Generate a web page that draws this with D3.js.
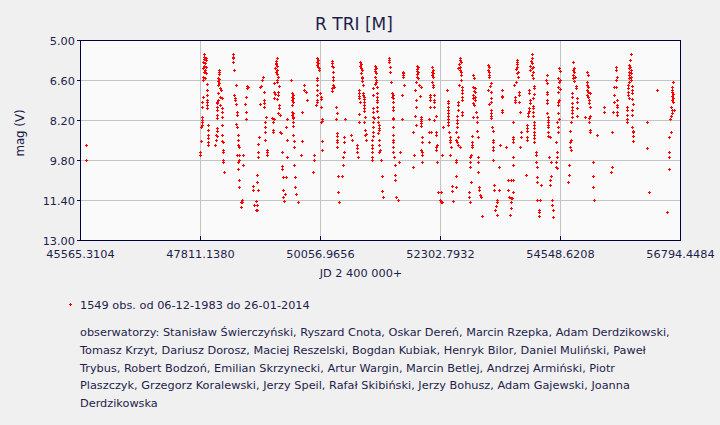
<!DOCTYPE html>
<html>
<head>
<meta charset="utf-8">
<script src="https://cdnjs.cloudflare.com/ajax/libs/d3/7.8.5/d3.min.js"></script>
<style>
  html, body { margin: 0; padding: 0; background: #f0f0f0; }
  svg { display: block; }
  text { font-family: "DejaVu Sans", Verdana, sans-serif; fill: #1e1e4b; }
</style>
</head>
<body>
<div id="chart"></div>
<script>
// tick values of both axes
var xTicks = [45565.3104, 47811.1380, 50056.9656, 52302.7932, 54548.6208, 56794.4484];
var yTicks = [5.00, 6.60, 8.20, 9.80, 11.40, 13.00];

var obsEarly = [[45672, 9.81], [45683, 9.21]];

var obsBlock1 = [
  [47892, 5.57], [47892, 5.67], [47917, 5.71], [47892, 5.76], [47917, 5.80], [47874, 5.87], [47905, 5.93],
  [47886, 6.03], [47917, 6.07], [47874, 6.13], [47905, 6.20], [47886, 6.27], [47917, 6.33], [47874, 6.47],
  [47905, 6.53], [47874, 6.60], [47936, 6.77], [47936, 7.00], [47936, 7.20], [47874, 7.29], [47855, 7.47],
  [47855, 7.69], [47948, 7.40], [47948, 7.49], [47948, 7.60], [47948, 7.73], [47855, 8.09], [47855, 8.20],
  [47842, 8.29], [47842, 8.40], [47830, 8.47], [47824, 9.03], [47811, 9.49], [47811, 9.60], [47967, 8.40],
  [47967, 8.60], [47967, 8.80], [47967, 8.93], [47967, 9.07], [47967, 9.20],
  [48167, 6.20], [48167, 6.27], [48167, 6.37], [48154, 6.51], [48173, 6.57], [48142, 6.64], [48173, 6.71],
  [48154, 6.80], [48185, 6.91], [48204, 7.00], [48154, 7.13], [48185, 7.27], [48217, 7.33], [48154, 7.40],
  [48123, 7.47], [48123, 7.53], [48185, 7.60], [48123, 7.67], [48217, 7.73], [48123, 7.80], [48217, 7.87],
  [48123, 8.00], [48217, 8.07], [48123, 8.13], [48217, 8.40], [48123, 8.53], [48123, 8.64], [48104, 8.80],
  [48123, 8.83], [48104, 9.00], [48229, 8.80], [48229, 9.04], [48248, 9.09], [48092, 9.20], [48248, 9.40],
  [48248, 9.49], [48248, 9.80], [48248, 9.89], [48267, 10.29],
  [48422, 5.57], [48435, 5.67], [48422, 5.73], [48435, 5.87], [48454, 6.20], [48479, 6.80], [48454, 7.20],
  [48466, 7.31], [48466, 7.40], [48479, 7.56], [48497, 7.87], [48497, 8.00], [48479, 8.37], [48497, 8.47],
  [48516, 8.80], [48516, 9.00], [48529, 9.20], [48541, 9.27], [48497, 9.60], [48541, 9.60], [48541, 9.80],
  [48529, 9.89], [48529, 10.17], [48547, 10.60], [48547, 10.89], [48591, 11.40], [48578, 11.47],
  [48603, 11.47], [48572, 11.69], [48622, 9.60], [48622, 10.00],
  [48697, 6.83], [48716, 6.87], [48684, 6.93], [48672, 7.29], [48653, 7.57], [48666, 7.87], [48666, 8.16],
  [48984, 6.49], [48965, 6.60], [48946, 6.83], [48934, 6.89], [49009, 7.07], [49009, 7.40], [49009, 7.53],
  [48934, 7.57], [49009, 7.67], [49040, 8.07], [49028, 8.29], [49028, 8.49], [49028, 8.69], [49028, 9.01],
  [48921, 8.89], [48903, 9.17], [48903, 9.49], [48903, 9.69], [49059, 9.40], [49059, 9.49], [49071, 9.60],
  [48884, 10.40], [48884, 10.69], [48809, 10.83], [48809, 11.01], [48890, 11.01], [48859, 11.43],
  [48822, 11.61], [48872, 11.61], [48853, 11.80], [48872, 11.81],
  [49246, 5.73], [49233, 5.83], [49227, 5.91], [49227, 5.97], [49246, 6.03], [49215, 6.11], [49258, 6.20],
  [49227, 6.27], [49246, 6.36], [49265, 6.47], [49258, 6.60], [49258, 6.67], [49196, 6.73], [49296, 6.83],
  [49196, 7.07], [49277, 7.07], [49215, 7.17], [49277, 7.20], [49196, 7.31], [49258, 7.37], [49296, 7.60],
  [49296, 7.73], [49277, 7.91], [49308, 8.00], [49196, 8.17], [49152, 8.11], [49171, 8.29], [49171, 8.60],
  [49184, 8.69], [49308, 8.69], [49321, 8.73], [49433, 8.16], [49420, 8.47], [49433, 9.00], [49339, 9.49],
  [49433, 9.69], [49339, 10.03], [49339, 10.17], [49371, 10.49], [49414, 10.49], [49358, 11.01],
  [49402, 11.16], [49358, 11.29], [49389, 11.43]
];

var obsBlock2 = [
  [49514, 6.60], [49527, 7.13], [49545, 7.20], [49527, 7.27], [49545, 7.33], [49527, 7.40], [49545, 7.47],
  [49527, 7.60], [49527, 7.87], [49545, 7.93], [49527, 8.00], [49545, 8.07], [49558, 8.13], [49545, 8.27],
  [49558, 8.44], [49558, 8.80], [49577, 9.03], [49570, 9.29], [49570, 10.00], [49589, 10.49], [49589, 10.89],
  [49608, 11.16], [49651, 11.49], [49714, 9.03], [49726, 7.89], [49695, 9.60], [49764, 6.80], [49758, 7.00],
  [49789, 7.07], [49807, 7.40],
  [50007, 5.73], [50026, 5.80], [50007, 5.87], [50026, 5.93], [50007, 6.00], [50026, 6.07], [50044, 6.13],
  [50038, 6.20], [50007, 6.51], [50007, 6.60], [49995, 6.80], [49995, 7.00], [49995, 7.20], [49995, 7.40],
  [49995, 7.47], [49976, 7.60], [50057, 7.11], [50069, 7.27], [50069, 7.36], [50069, 7.67], [50088, 8.16],
  [50088, 8.24], [50075, 8.29], [50101, 9.03], [50101, 9.40], [49951, 9.60], [49951, 9.80], [49932, 10.29],
  [50288, 5.84], [50275, 5.93], [50288, 6.03], [50306, 6.07], [50306, 6.27], [50306, 6.49], [50306, 6.60],
  [50306, 6.80], [50275, 6.93], [50275, 7.03], [50325, 6.87], [50350, 7.67], [50369, 7.91], [50350, 8.16],
  [50369, 8.73], [50369, 8.83], [50369, 9.00], [50369, 9.09], [50369, 9.29], [50400, 10.43], [50400, 11.09],
  [50418, 11.49],
  [50525, 8.16], [50512, 8.89], [50512, 9.09], [50631, 8.80], [50649, 9.00], [50512, 9.49], [50494, 9.69],
  [50494, 10.00], [50475, 10.43],
  [50805, 5.89], [50818, 5.97], [50805, 6.04], [50818, 6.11], [50837, 6.20], [50818, 6.33], [50837, 6.47],
  [50837, 6.53], [50849, 6.64], [50868, 6.80], [50787, 7.00], [50787, 7.11], [50787, 7.23], [50787, 7.33],
  [50805, 7.49], [50868, 7.13], [50868, 7.20], [50880, 7.27], [50880, 7.36], [50880, 7.47], [50880, 7.60],
  [50880, 7.71], [50880, 7.84], [50899, 8.07], [50880, 8.29], [50899, 8.60], [50899, 8.80], [50912, 9.00],
  [50793, 7.97], [50793, 8.29], [50743, 9.20], [50743, 9.33], [50756, 9.49], [50762, 9.69], [50918, 8.76],
  [51086, 6.03], [51105, 6.11], [51086, 6.16], [51086, 6.24], [51105, 6.33], [51086, 6.47], [51105, 6.60],
  [51105, 6.69], [51086, 6.77], [51117, 6.87], [51055, 6.93], [51055, 7.20], [51130, 7.13], [51130, 7.27],
  [51130, 7.40], [51130, 7.49], [51130, 7.67], [51130, 7.84], [51149, 8.07], [51149, 8.29], [51167, 8.40],
  [51167, 8.51], [51167, 8.60], [51149, 8.73], [51167, 9.00], [51167, 9.20], [51180, 9.40], [51167, 9.49],
  [51192, 9.80], [51043, 7.73], [51043, 7.87], [51043, 8.07], [51043, 8.27], [51043, 8.47], [51043, 8.69],
  [51043, 8.83], [51024, 9.00], [51024, 9.20], [51024, 9.33], [51024, 9.49], [51024, 9.67], [51024, 9.80],
  [51068, 8.13], [51211, 10.43], [51223, 11.03], [51242, 11.29], [51354, 5.71], [51354, 5.80], [51354, 5.89]
];

var obsBlock3 = [
  [51367, 6.07], [51367, 6.27], [51386, 6.69], [51398, 7.13], [51417, 7.20], [51398, 7.27], [51417, 7.33],
  [51417, 7.49], [51417, 7.67], [51417, 7.80], [51417, 8.11], [51429, 8.16], [51429, 8.49], [51429, 8.80],
  [51429, 9.00], [51429, 9.09], [51429, 9.27], [51429, 9.49], [51448, 9.69], [51461, 10.00], [51461, 10.40],
  [51461, 10.60], [51479, 11.29], [51523, 11.40], [51554, 9.49], [51542, 9.89], [51585, 7.20], [51585, 8.16],
  [51635, 6.80], [51604, 6.27], [51604, 6.33], [51604, 6.40], [51604, 6.47], [51617, 6.33],
  [51866, 6.03], [51897, 6.09], [51879, 6.16], [51866, 6.24], [51897, 6.29], [51879, 6.37], [51866, 6.47],
  [51897, 6.53], [51854, 6.67], [51916, 6.80], [51941, 6.89], [51835, 7.00], [51928, 7.23], [51847, 7.40],
  [51847, 7.69], [51835, 8.03], [51941, 8.07], [51941, 8.16], [51941, 8.24], [51941, 8.33], [51941, 8.43],
  [51847, 8.40], [51804, 8.69], [51960, 8.89], [51960, 9.09], [51941, 9.40], [51960, 9.49], [51972, 9.60],
  [51972, 9.89], [51822, 9.60], [51804, 10.09],
  [52147, 6.09], [52165, 6.20], [52147, 6.27], [52178, 6.33], [52147, 6.40], [52178, 6.47], [52147, 6.69],
  [52165, 6.80], [52178, 6.89], [52116, 7.20], [52116, 7.29], [52116, 7.40], [52197, 7.20], [52197, 7.40],
  [52197, 7.49], [52116, 7.69], [52197, 7.69], [52222, 8.03], [52103, 8.16], [52197, 8.20], [52103, 8.67],
  [52128, 8.69], [52222, 8.69], [52222, 8.80], [52097, 9.09], [52240, 9.20], [52228, 9.29], [52222, 9.40],
  [52253, 9.89],
  [52272, 11.07], [52315, 11.07], [52303, 11.40], [52315, 11.47], [52334, 11.49], [52365, 8.49], [52346, 9.60],
  [52677, 5.71], [52677, 5.80], [52689, 5.89], [52664, 5.97], [52677, 6.07], [52646, 6.13], [52677, 6.20],
  [52689, 6.27], [52696, 6.40], [52696, 6.60], [52658, 6.80], [52721, 6.87], [52721, 7.00], [52721, 7.13],
  [52721, 7.27], [52721, 7.40], [52646, 7.49], [52646, 7.60], [52646, 7.80], [52721, 7.87], [52721, 8.00],
  [52627, 8.03], [52627, 8.20], [52627, 8.33], [52615, 8.47], [52602, 8.69], [52633, 8.87], [52602, 9.00],
  [52615, 9.09], [52633, 9.20], [52677, 9.29], [52440, 7.00], [52446, 7.44], [52459, 7.53], [52459, 7.67],
  [52459, 7.80], [52459, 7.93], [52459, 8.03], [52459, 8.16], [52459, 8.27], [52459, 8.40], [52477, 8.69],
  [52490, 8.89], [52490, 9.00], [52490, 9.09], [52502, 9.27], [52490, 9.60], [52596, 9.80], [52596, 9.89],
  [52596, 10.43], [52534, 10.83], [52534, 11.03], [52596, 10.89], [52552, 11.43],
  [52914, 6.40], [52939, 6.53], [52927, 6.87], [52958, 6.93], [52939, 7.03], [52958, 7.09], [52927, 7.20],
  [52958, 7.27], [52927, 7.33], [52958, 7.40], [52927, 7.53], [52939, 7.60], [52976, 7.89], [52914, 8.07],
  [52989, 8.07], [52989, 8.29], [53001, 8.63], [53020, 8.89], [52908, 8.83], [52908, 9.07], [52895, 9.20],
  [52895, 9.29], [52877, 9.60], [52864, 9.69], [53020, 9.69], [53020, 9.89], [52864, 9.89], [52864, 10.09],
  [53020, 10.29], [52877, 10.69], [52852, 11.09], [52852, 11.29], [52864, 11.49], [53039, 10.89],
  [53039, 11.00], [53051, 11.20], [53064, 11.29], [53082, 12.03],
  [53207, 6.00], [53220, 6.09], [53207, 6.20], [53220, 6.29], [53220, 6.40], [53220, 6.49], [53195, 7.00],
  [53238, 6.84], [53226, 7.57]
];

var obsBlock4 = [
  [53257, 6.73], [53257, 7.07], [53257, 7.31], [53257, 7.49], [53257, 7.80], [53257, 7.93], [53257, 8.03],
  [53257, 8.13], [53270, 8.47], [53288, 8.64], [53288, 9.00], [53288, 9.09], [53288, 9.27], [53288, 9.40],
  [53301, 9.80], [53320, 10.80], [53320, 11.00], [53376, 11.40], [53376, 11.49], [53351, 11.63],
  [53332, 11.80], [53363, 12.00], [53413, 10.09], [53413, 11.00], [53426, 9.20], [53457, 7.00], [53457, 7.23],
  [53457, 7.29], [53457, 7.80], [53457, 7.89], [53538, 9.29],
  [53738, 5.80], [53750, 5.89], [53738, 5.97], [53750, 6.07], [53725, 6.16], [53769, 6.27], [53738, 6.33],
  [53769, 6.49], [53719, 6.67], [53694, 6.80], [53787, 7.07], [53787, 7.20], [53706, 7.27], [53706, 7.40],
  [53706, 7.49], [53787, 7.49], [53800, 7.89], [53675, 8.29], [53675, 8.87], [53675, 8.96], [53675, 9.07],
  [53812, 8.69], [53812, 8.89], [53800, 9.29], [53675, 9.69], [53675, 10.00], [53582, 10.60], [53625, 10.60],
  [53663, 10.60], [53582, 11.00], [53663, 11.07], [53600, 11.27], [53625, 11.31], [53644, 11.31],
  [53625, 11.49], [53625, 11.73], [53613, 12.00],
  [54018, 5.57], [54018, 5.73], [54000, 5.84], [54018, 5.93], [53987, 6.03], [54037, 6.07], [54018, 6.13],
  [53987, 6.20], [54037, 6.27], [54018, 6.40], [54049, 6.53], [53974, 7.00], [53974, 7.13], [54062, 6.83],
  [54062, 6.93], [54062, 7.16], [54049, 7.33], [53987, 7.40], [53987, 7.53], [54049, 7.64], [53974, 7.73],
  [53974, 7.84], [53956, 7.93], [53956, 8.03], [54049, 7.73], [54049, 7.87], [54049, 8.03], [54068, 8.27],
  [54068, 8.40], [54068, 8.53], [54068, 8.67], [54068, 8.80], [54068, 8.93], [54068, 9.07], [53937, 8.40],
  [53937, 8.53], [53937, 8.64], [53937, 8.87], [53937, 9.00], [54093, 9.49], [54093, 9.60], [54099, 9.89],
  [54112, 10.09], [53912, 10.40], [54112, 10.49], [54112, 10.69], [54187, 10.80], [54124, 11.40],
  [54174, 11.40], [54156, 11.80], [54156, 11.87], [54162, 12.03],
  [54299, 6.40], [54287, 6.60], [54299, 6.73], [54311, 7.07], [54311, 7.16], [54299, 7.40], [54299, 7.53],
  [54311, 7.93], [54330, 8.07], [54330, 8.20], [54330, 8.29], [54330, 8.40], [54330, 8.49], [54330, 8.69],
  [54330, 8.83], [54361, 8.89], [54474, 9.09], [54349, 9.69], [54374, 9.87], [54486, 9.69], [54486, 9.49],
  [54474, 9.89], [54474, 10.09], [54486, 10.13], [54374, 10.43], [54361, 10.60], [54361, 10.80],
  [54392, 11.40], [54392, 11.60], [54424, 11.80], [54411, 12.09],
  [54536, 6.11], [54548, 6.24], [54517, 6.51], [54548, 6.60], [54536, 6.69], [54517, 6.89], [54548, 6.96],
  [54517, 7.09], [54536, 7.40], [54517, 7.49], [54517, 7.60], [54517, 7.93], [54536, 8.16], [54499, 8.27],
  [54505, 8.69], [54505, 8.47],
  [54798, 5.89], [54811, 6.11], [54785, 6.20], [54811, 6.27], [54798, 6.40], [54829, 6.47], [54798, 6.53],
  [54811, 6.64], [54848, 6.83], [54848, 6.93], [54767, 7.13], [54767, 7.27], [54860, 7.31], [54860, 7.47],
  [54767, 7.53], [54767, 7.67], [54767, 7.80], [54767, 7.93], [54767, 8.07], [54860, 7.71], [54860, 8.03],
  [54748, 8.29], [54736, 8.64], [54748, 9.00], [54736, 9.07], [54736, 9.29], [54748, 9.40], [54723, 10.00],
  [54717, 10.40], [54704, 10.69],
  [55047, 6.29], [55066, 6.40], [55060, 6.67], [55047, 6.80], [55079, 6.89], [55047, 7.00], [55079, 7.07],
  [55047, 7.20], [55066, 7.27], [55091, 7.40], [55097, 7.53], [55016, 8.07], [55097, 8.13], [55097, 8.27]
];

var obsBlock5 = [
  [55110, 7.13], [55110, 7.69], [55110, 8.03], [55110, 8.60], [55110, 8.69], [55160, 9.89], [55160, 10.43],
  [55172, 10.89], [55191, 11.40], [55247, 8.80],
  [55378, 7.69], [55378, 7.89], [55528, 8.69], [55515, 10.09], [55497, 10.29], [55597, 6.09], [55590, 6.20],
  [55609, 6.49], [55590, 6.60], [55559, 6.89], [55597, 6.89], [55565, 7.20], [55565, 7.49], [55622, 7.40],
  [55622, 7.60], [55622, 7.69], [55547, 7.89], [55622, 7.89], [55622, 8.00],
  [55871, 5.57], [55859, 5.80], [55840, 6.00], [55859, 6.07], [55840, 6.13], [55871, 6.20], [55846, 6.27],
  [55871, 6.33], [55846, 6.40], [55871, 6.47], [55846, 6.53], [55871, 6.60], [55840, 6.67], [55827, 6.80],
  [55890, 6.83], [55827, 6.93], [55890, 7.00], [55827, 7.07], [55890, 7.13], [55827, 7.20], [55840, 7.33],
  [55890, 7.36], [55908, 7.57], [55809, 7.69], [55809, 7.80], [55890, 7.80], [55809, 8.00], [55902, 8.00],
  [55809, 8.16], [55809, 8.29], [55902, 8.49], [55921, 8.63], [55908, 8.69], [55921, 8.83], [55921, 9.03],
  [56170, 8.27], [56183, 9.33], [56220, 11.09], [56358, 7.00], [56545, 11.89],
  [56657, 6.69], [56651, 6.89], [56651, 7.00], [56638, 7.09], [56657, 7.17], [56638, 7.23], [56657, 7.31],
  [56638, 7.40], [56657, 7.49], [56626, 7.69], [56638, 7.80], [56688, 7.80], [56638, 7.93], [56626, 8.03],
  [56607, 8.16], [56620, 8.69], [56595, 8.89], [56595, 9.49], [56595, 9.69], [56595, 10.17]
];

var observations = [].concat(obsEarly, obsBlock1, obsBlock2, obsBlock3, obsBlock4, obsBlock5);

var titleText = "R TRI [M]";
var legendText = "1549 obs. od 06-12-1983 do 26-01-2014";
var observerLines = [
  "obserwatorzy: Stanisław Świerczyński, Ryszard Cnota, Oskar Dereń, Marcin Rzepka, Adam Derdzikowski,",
  "Tomasz Krzyt, Dariusz Dorosz, Maciej Reszelski, Bogdan Kubiak, Henryk Bilor, Daniel Muliński, Paweł",
  "Trybus, Robert Bodzoń, Emilian Skrzynecki, Artur Wargin, Marcin Betlej, Andrzej Armiński, Piotr",
  "Plaszczyk, Grzegorz Koralewski, Jerzy Speil, Rafał Skibiński, Jerzy Bohusz, Adam Gajewski, Joanna",
  "Derdzikowska"
];

// set the dimensions and margins of the graph
var margin = {top: 40, right: 40, bottom: 185, left: 80},
    width = 600,
    height = 200;

var svg = d3.select("#chart").append("svg")
    .attr("width", 720)
    .attr("height", 425);

svg.append("rect")
    .attr("width", 720).attr("height", 425)
    .attr("fill", "#f0f0f0");

// title
svg.append("text")
    .attr("x", 354).attr("y", 30)
    .attr("text-anchor", "middle")
    .style("font-size", "17px")
    .text(titleText);

var g = svg.append("g")
    .attr("transform", "translate(" + margin.left + "," + margin.top + ")");

var x = d3.scaleLinear()
    .domain([xTicks[0], xTicks[xTicks.length - 1]])
    .range([0, width]);
var y = d3.scaleLinear()
    .domain([yTicks[0], yTicks[yTicks.length - 1]])
    .range([0, height]);

// plot background
g.append("rect")
    .attr("width", width).attr("height", height)
    .attr("fill", "#fafafa");

// grid lines
g.selectAll(".hgrid")
    .data(yTicks.slice(1, -1))
  .enter().append("line")
    .attr("x1", 0).attr("x2", width)
    .attr("y1", function(d) { return Math.round(y(d)) + 0.5; })
    .attr("y2", function(d) { return Math.round(y(d)) + 0.5; })
    .attr("stroke", "#c4c4c4");
g.selectAll(".vgrid")
    .data(xTicks.slice(1, -1))
  .enter().append("line")
    .attr("y1", 0).attr("y2", height)
    .attr("x1", function(d) { return Math.round(x(d)) + 0.5; })
    .attr("x2", function(d) { return Math.round(x(d)) + 0.5; })
    .attr("stroke", "#c4c4c4");

// observation markers: small crosses
var marks = g.append("g").attr("fill", "#ff0000").attr("shape-rendering", "crispEdges");
observations.forEach(function(d) {
  var px = Math.round(x(d[0])), py = Math.round(y(d[1]));
  marks.append("rect").attr("x", px - 1).attr("y", py).attr("width", 3).attr("height", 1);
  marks.append("rect").attr("x", px).attr("y", py - 1).attr("width", 1).attr("height", 3);
});

// frame
g.append("rect")
    .attr("x", 0.5).attr("y", 0.5)
    .attr("width", width).attr("height", height)
    .attr("fill", "none")
    .attr("stroke", "#000040");

// x axis
var xAxis = g.append("g")
    .attr("transform", "translate(0," + height + ")")
    .call(d3.axisBottom(x).tickValues(xTicks).tickFormat(d3.format(".4f")).tickSize(-4).tickPadding(10));
// y axis
var yAxis = g.append("g")
    .call(d3.axisLeft(y).tickValues(yTicks).tickFormat(d3.format(".2f")).tickSize(3).tickPadding(2));

[xAxis, yAxis].forEach(function(a) {
  a.select(".domain").remove();
  a.selectAll(".tick line").attr("stroke", "#000040").attr("shape-rendering", "crispEdges");
  a.selectAll(".tick text").style("font-size", "11.3px").style("font-family", null).attr("fill", null);
});
yAxis.selectAll(".tick text").attr("dy", "0.42em");

// axis titles
svg.append("text")
    .attr("x", 361).attr("y", 277)
    .attr("text-anchor", "middle")
    .style("font-size", "11.3px")
    .text("JD 2 400 000+");
svg.append("text")
    .attr("transform", "translate(24,133) rotate(-90)")
    .attr("text-anchor", "middle")
    .style("font-size", "11.8px")
    .text("mag (V)");

// legend
svg.append("rect").attr("x", 69).attr("y", 304).attr("width", 3).attr("height", 1).attr("fill", "#ff0000");
svg.append("rect").attr("x", 70).attr("y", 303).attr("width", 1).attr("height", 3).attr("fill", "#ff0000");
svg.append("text")
    .attr("x", 80).attr("y", 309)
    .style("font-size", "11.3px")
    .text(legendText);

svg.selectAll(".obsline")
    .data(observerLines)
  .enter().append("text")
    .attr("x", 80)
    .attr("y", function(d, i) { return 336 + i * 17.8; })
    .style("font-size", "11.3px")
    .text(function(d) { return d; });
</script>
</body>
</html>
